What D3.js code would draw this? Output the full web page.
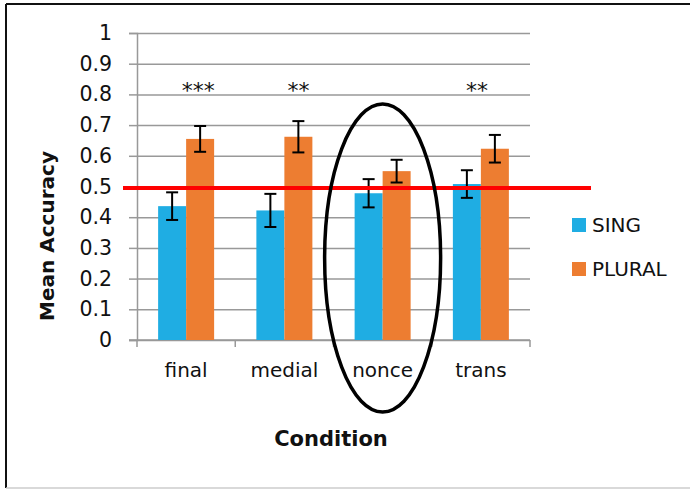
<!DOCTYPE html>
<html>
<head>
<meta charset="utf-8">
<script src="https://cdn.jsdelivr.net/npm/d3@7"></script>
<style>
  body { margin: 0; background: #fff; }
  text { font-family: "DejaVu Sans", sans-serif; fill: #111; }
</style>
</head>
<body>
<svg id="chart" width="690" height="489"></svg>
<script>
// data
const categories = ["final", "medial", "nonce", "trans"];
const seriesNames = ["SING", "PLURAL"];
const singValues = [0.436, 0.422, 0.478, 0.508];
const singErrors = [0.045, 0.054, 0.046, 0.045];
const pluralValues = [0.655, 0.662, 0.550, 0.623];
const pluralErrors = [0.042, 0.051, 0.037, 0.045];
const stars = ["***", "**", "", "**"];
const yTicks = [0, 0.1, 0.2, 0.3, 0.4, 0.5, 0.6, 0.7, 0.8, 0.9, 1];
const chanceLevel = 0.495;

const colors = { SING: "#1fade3", PLURAL: "#ed7d31" };
const starShift = [12, 14, 0, -4];

const svg = d3.select("#chart");

// outer frame
svg.append("line").attr("x1", 6).attr("x2", 690).attr("y1", 4).attr("y2", 4)
  .attr("stroke", "#111").attr("stroke-width", 2);
svg.append("line").attr("x1", 6).attr("x2", 6).attr("y1", 4).attr("y2", 488)
  .attr("stroke", "#111").attr("stroke-width", 2);
svg.append("line").attr("x1", 6).attr("x2", 690).attr("y1", 488).attr("y2", 488)
  .attr("stroke", "#ccc").attr("stroke-width", 1.5);

const plotLeft = 137, plotRight = 530, plotTop = 33, plotBottom = 340;

const x = d3.scaleBand().domain(categories).range([plotLeft, plotRight]).padding(0);
const xSub = d3.scaleBand().domain(seriesNames)
  .range([x.bandwidth() * 0.215, x.bandwidth() * 0.785]).padding(0);
const y = d3.scaleLinear().domain([0, 1]).range([plotBottom, plotTop]);

// grid + y axis
const yAxis = svg.append("g")
  .attr("transform", "translate(" + plotLeft + ",0)")
  .call(d3.axisLeft(y).tickValues(yTicks).tickSize(8).tickPadding(17)
    .tickFormat(d => d === 0 || d === 1 ? d3.format("d")(d) : d3.format(".1f")(d)));
yAxis.select(".domain").attr("stroke", "#999").attr("stroke-width", 1.5);
yAxis.selectAll(".tick line").attr("stroke", "#999").attr("stroke-width", 1.5);
yAxis.selectAll(".tick text").style("font-size", "20.5px").attr("fill", "#111")
  .style("font-family", "DejaVu Sans");
yAxis.selectAll(".tick").append("line")
  .attr("x1", 0).attr("x2", plotRight - plotLeft)
  .attr("stroke", "#999").attr("stroke-width", 1.5);

// x axis
const xAxisG = svg.append("g").attr("transform", "translate(0," + plotBottom + ")");
xAxisG.append("line").attr("x1", plotLeft - 8).attr("x2", plotRight)
  .attr("stroke", "#999").attr("stroke-width", 1.5);
const bounds = categories.map(c => x(c)).concat([plotRight]);
xAxisG.selectAll(".xtick").data(bounds).enter().append("line")
  .attr("x1", d => d).attr("x2", d => d).attr("y1", 0).attr("y2", 7)
  .attr("stroke", "#999").attr("stroke-width", 1.5);
xAxisG.selectAll(".xlabel").data(categories).enter().append("text")
  .attr("x", d => x(d) + x.bandwidth() / 2).attr("y", 37)
  .attr("text-anchor", "middle").style("font-size", "20px").text(d => d);

// bars
const rows = categories.map((c, i) => ({
  cat: c,
  vals: [
    { s: "SING", v: singValues[i], e: singErrors[i] },
    { s: "PLURAL", v: pluralValues[i], e: pluralErrors[i] }
  ]
}));

const groups = svg.append("g").selectAll("g").data(rows).enter().append("g")
  .attr("transform", d => "translate(" + x(d.cat) + ",0)");
groups.selectAll("rect").data(d => d.vals).enter().append("rect")
  .attr("x", d => xSub(d.s)).attr("width", xSub.bandwidth())
  .attr("y", d => y(d.v)).attr("height", d => y(0) - y(d.v))
  .attr("fill", d => colors[d.s]);

// chance line
svg.append("line")
  .attr("x1", 123).attr("x2", 591)
  .attr("y1", y(chanceLevel)).attr("y2", y(chanceLevel))
  .attr("stroke", "#ff0000").attr("stroke-width", 4);

// error bars
const eb = groups.selectAll(".eb").data(d => d.vals).enter().append("g");
const cx = d => xSub(d.s) + xSub.bandwidth() / 2;
eb.append("line").attr("x1", cx).attr("x2", cx)
  .attr("y1", d => y(d.v + d.e)).attr("y2", d => y(d.v - d.e))
  .attr("stroke", "#000").attr("stroke-width", 2);
eb.append("line").attr("x1", d => cx(d) - 6).attr("x2", d => cx(d) + 6)
  .attr("y1", d => y(d.v + d.e)).attr("y2", d => y(d.v + d.e))
  .attr("stroke", "#000").attr("stroke-width", 2);
eb.append("line").attr("x1", d => cx(d) - 6).attr("x2", d => cx(d) + 6)
  .attr("y1", d => y(d.v - d.e)).attr("y2", d => y(d.v - d.e))
  .attr("stroke", "#000").attr("stroke-width", 2);

// significance stars
svg.selectAll(".star").data(stars).enter().append("text")
  .attr("x", (d, i) => x(categories[i]) + x.bandwidth() / 2 + starShift[i])
  .attr("y", 98).attr("text-anchor", "middle")
  .style("font-size", "22px").text(d => d);

// ellipse round nonce
svg.append("ellipse")
  .attr("cx", x("nonce") + x.bandwidth() / 2).attr("cy", 258)
  .attr("rx", 58).attr("ry", 154)
  .attr("fill", "none").attr("stroke", "#000").attr("stroke-width", 3.5);

// axis titles
svg.append("text").attr("x", 331).attr("y", 446).attr("text-anchor", "middle")
  .style("font-size", "21px").style("font-weight", "bold").text("Condition");
svg.append("text").attr("transform", "translate(47,236) rotate(-90)")
  .attr("text-anchor", "middle").attr("dy", "0.35em")
  .style("font-size", "20px").style("font-weight", "bold").text("Mean Accuracy");

// legend
const legend = svg.append("g").selectAll("g").data(seriesNames).enter().append("g")
  .attr("transform", (d, i) => "translate(572," + (218 + i * 44) + ")");
legend.append("rect").attr("width", 14).attr("height", 14).attr("fill", d => colors[d]);
legend.append("text").attr("x", 20).attr("y", 14).style("font-size", "20px").text(d => d);
</script>
</body>
</html>
